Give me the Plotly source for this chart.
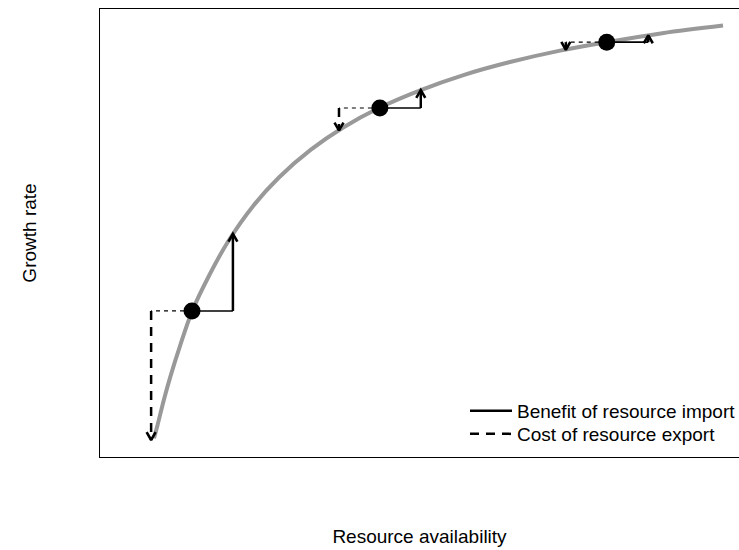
import numpy as np
import plotly.graph_objects as go

# ---- data (arbitrary units) ----
curve_x = [8.45, 9.0, 10.0, 11.0, 12.5, 14.4, 17.0, 20.0, 24.0, 28.0, 33.0, 38.0,
           43.8, 50.0, 57.0, 64.0, 72.0, 79.3, 88.0, 97.5]
curve_y = [4.2, 7.1, 12.8, 17.9, 24.7, 32.5, 40.3, 48.0, 56.1, 62.4, 68.6, 73.5,
           78.0, 81.8, 85.3, 88.1, 90.7, 92.6, 94.6, 96.3]

point_x = [14.4, 43.8, 79.3]
point_y = [32.6, 77.9, 92.6]

import_x = [20.8, 50.2, 85.8]   # benefit of resource import
import_y = [49.8, 81.9, 94.1]
export_x = [8.0, 37.4, 72.9]    # cost of resource export
export_y = [3.8, 72.9, 90.9]

legend_names = ["Benefit of resource import", "Cost of resource export"]
x_title = "Resource availability"
y_title = "Growth rate"

# ---- layout geometry ----
W, H = 739, 550
ML, MR, MT, MB = 100, 0, 9, 93
XR = [0, 100]
YR = [0, 100]
PW, PH = W - ML - MR, H - MT - MB
sx = PW / (XR[1] - XR[0])
sy = PH / (YR[1] - YR[0])

FONT = "Liberation Sans, Arial, Helvetica, sans-serif"
FS = 19

fig = go.Figure()

fig.add_trace(go.Scatter(x=curve_x, y=curve_y, mode="lines",
                         line=dict(color="#999999", width=4, shape="spline", smoothing=1.0),
                         showlegend=False, hoverinfo="skip"))


def head(tx, ty, d):
    L = 9.0
    dx = L * np.sin(np.radians(30)) / sx
    dy = L * np.cos(np.radians(30)) / sy
    return [tx - dx, tx, tx + dx], [ty - d * dy, ty, ty - d * dy]


for i in range(len(point_x)):
    px, py = point_x[i], point_y[i]
    # import (solid)
    fig.add_trace(go.Scatter(x=[px, import_x[i]], y=[py, py], mode="lines",
                             line=dict(color="black", width=1.6), showlegend=False, hoverinfo="skip"))
    fig.add_trace(go.Scatter(x=[import_x[i], import_x[i]], y=[py, import_y[i]], mode="lines",
                             line=dict(color="black", width=2.5), showlegend=False, hoverinfo="skip"))
    hx, hy = head(import_x[i], import_y[i], 1 if import_y[i] > py else -1)
    fig.add_trace(go.Scatter(x=hx, y=hy, mode="lines",
                             line=dict(color="black", width=2.6), showlegend=False, hoverinfo="skip"))
    # export (dashed)
    fig.add_trace(go.Scatter(x=[px, export_x[i]], y=[py, py], mode="lines",
                             line=dict(color="black", width=1.2, dash="4px,4px"), showlegend=False, hoverinfo="skip"))
    fig.add_trace(go.Scatter(x=[export_x[i], export_x[i]], y=[py, export_y[i]], mode="lines",
                             line=dict(color="black", width=2.5, dash="9px,7px"), showlegend=False, hoverinfo="skip"))
    hx, hy = head(export_x[i], export_y[i], 1 if export_y[i] > py else -1)
    fig.add_trace(go.Scatter(x=hx, y=hy, mode="lines",
                             line=dict(color="black", width=2.6), showlegend=False, hoverinfo="skip"))

fig.add_trace(go.Scatter(x=point_x, y=point_y, mode="markers",
                         marker=dict(color="black", size=17, line=dict(width=0)),
                         showlegend=False, hoverinfo="skip"))

# legend entries (one legend per row for R-like row spacing)
fig.add_trace(go.Scatter(x=[None], y=[None], mode="lines", name=legend_names[0],
                         line=dict(color="black", width=2.5), legend="legend"))
fig.add_trace(go.Scatter(x=[None], y=[None], mode="lines", name=legend_names[1],
                         line=dict(color="black", width=2.5, dash="9px,7px"), legend="legend2"))

leg_x = (465 - ML) / PW
common = dict(x=leg_x, xanchor="left", yanchor="middle", bgcolor="rgba(0,0,0,0)",
              borderwidth=0, font=dict(size=FS), itemwidth=42)

fig.update_layout(
    width=W, height=H,
    margin=dict(l=ML, r=MR, t=MT, b=MB, pad=0, autoexpand=False),
    paper_bgcolor="white", plot_bgcolor="white",
    font=dict(family=FONT, size=FS, color="black"),
    showlegend=True,
    legend=dict(y=(H - MB - 411) / PH, **common),
    legend2=dict(y=(H - MB - 434) / PH, **common),
    xaxis=dict(range=XR, showgrid=False, zeroline=False, showticklabels=False, ticks="",
               showline=True, mirror=True, linecolor="black", linewidth=1,
               title=dict(text=x_title, standoff=72, font=dict(size=FS))),
    yaxis=dict(range=YR, showgrid=False, zeroline=False, showticklabels=False, ticks="",
               showline=True, mirror=True, linecolor="black", linewidth=1,
               title=dict(text=y_title, standoff=57, font=dict(size=FS))),
)

fig.write_html("out.html")
